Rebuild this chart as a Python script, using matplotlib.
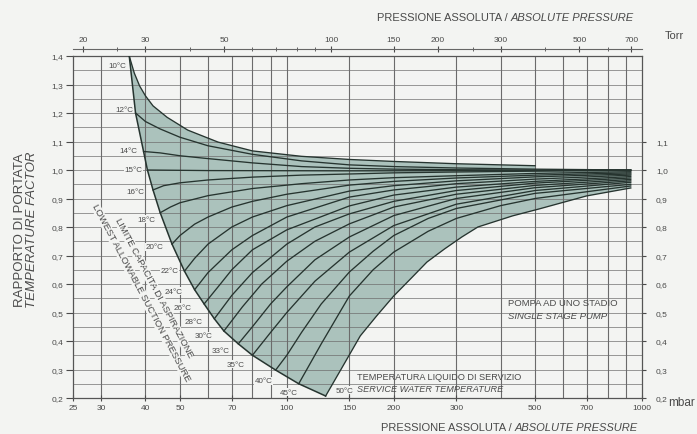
"""Temperature factor chart for a single stage liquid ring pump."""

import matplotlib.pyplot as plt
import matplotlib.ticker as mticker

plt.rcParams["font.family"] = ["Liberation Sans", "DejaVu Sans"]

W, H = 697, 435
BG = "#f3f4f2"
FILL = "#abc2bc"
LINE = "#26342f"
GRID = "#6b6b6b"
TXT = "#4a4a4a"

# ## Data (pressure in mbar, temperature factor) ###
bound_p = [36.0, 37.5, 39.5, 40.5, 42.0, 44.0, 47.5, 51.5, 55.0, 58.5, 62.5,
           66.5, 73.0, 80.0, 93.0, 108.0, 128.6]
bound_v = [1.40, 1.20, 1.065, 1.00, 0.93, 0.85, 0.74, 0.645, 0.58, 0.53, 0.478,
           0.435, 0.39, 0.35, 0.298, 0.25, 0.207]

p10 = [36.0, 37.2, 38.5, 40.0, 42.0, 46.0, 52.6, 64.0, 80.0, 110.0, 150.0, 200.0, 300.0, 500.0]
v10 = [1.40, 1.34, 1.295, 1.26, 1.225, 1.185, 1.14, 1.098, 1.067, 1.048, 1.037, 1.030, 1.022, 1.015]
p12 = [37.5, 40.0, 44.0, 50.0, 60.0, 80.0, 110.0, 150.0, 200.0, 300.0, 500.0, 930.0]
v12 = [1.20, 1.17, 1.144, 1.115, 1.085, 1.055, 1.032, 1.018, 1.012, 1.007, 1.003, 1.0]
p14 = [39.5, 44.0, 50.0, 60.0, 80.0, 110.0, 150.0, 200.0, 300.0, 500.0, 930.0]
v14 = [1.065, 1.06, 1.05, 1.04, 1.025, 1.012, 1.006, 1.003, 1.001, 1.0, 1.0]
p15 = [40.5, 60.0, 150.0, 500.0, 930.0]
v15 = [1.0, 0.998, 0.997, 0.998, 1.0]
p16 = [42.0, 45.0, 50.0, 60.0, 80.0, 110.0, 150.0, 200.0, 300.0, 500.0, 930.0]
v16 = [0.93, 0.945, 0.955, 0.965, 0.975, 0.982, 0.986, 0.99, 0.993, 0.996, 0.998]
p18 = [44.0, 47.0, 50.0, 60.0, 80.0, 110.0, 150.0, 200.0, 300.0, 500.0, 930.0]
v18 = [0.85, 0.87, 0.885, 0.91, 0.935, 0.952, 0.965, 0.973, 0.98, 0.988, 0.994]
p20 = [47.5, 50.0, 55.0, 60.0, 70.0, 80.0, 100.0, 150.0, 200.0, 300.0, 500.0, 930.0]
v20 = [0.74, 0.77, 0.81, 0.835, 0.87, 0.89, 0.915, 0.947, 0.96, 0.972, 0.982, 0.99]
p22 = [51.5, 55.0, 60.0, 70.0, 80.0, 100.0, 150.0, 200.0, 300.0, 500.0, 930.0]
v22 = [0.645, 0.69, 0.74, 0.80, 0.835, 0.875, 0.926, 0.945, 0.962, 0.976, 0.986]
p24 = [55.0, 60.0, 70.0, 80.0, 100.0, 150.0, 200.0, 300.0, 500.0, 930.0]
v24 = [0.58, 0.64, 0.72, 0.77, 0.835, 0.905, 0.93, 0.952, 0.968, 0.982]
p26 = [58.5, 65.0, 70.0, 80.0, 100.0, 150.0, 200.0, 300.0, 500.0, 930.0]
v26 = [0.53, 0.60, 0.65, 0.72, 0.79, 0.874, 0.912, 0.94, 0.96, 0.977]
p28 = [62.5, 70.0, 80.0, 100.0, 120.0, 150.0, 200.0, 300.0, 500.0, 930.0]
v28 = [0.478, 0.56, 0.64, 0.74, 0.80, 0.846, 0.89, 0.928, 0.954, 0.972]
p30 = [66.5, 75.0, 85.0, 100.0, 120.0, 150.0, 200.0, 300.0, 500.0, 930.0]
v30 = [0.435, 0.52, 0.60, 0.68, 0.75, 0.811, 0.87, 0.915, 0.946, 0.967]
p33 = [73.0, 80.0, 90.0, 100.0, 120.0, 150.0, 200.0, 300.0, 500.0, 930.0]
v33 = [0.39, 0.45, 0.53, 0.59, 0.685, 0.765, 0.84, 0.90, 0.938, 0.962]
p35 = [80.0, 90.0, 100.0, 120.0, 150.0, 200.0, 300.0, 500.0, 930.0]
v35 = [0.35, 0.43, 0.50, 0.61, 0.712, 0.805, 0.88, 0.928, 0.957]
p40 = [93.0, 100.0, 110.0, 125.0, 150.0, 175.0, 200.0, 250.0, 300.0, 500.0, 930.0]
v40 = [0.298, 0.35, 0.43, 0.53, 0.642, 0.715, 0.77, 0.83, 0.865, 0.918, 0.95]
p45 = [108.0, 115.0, 125.0, 150.0, 175.0, 200.0, 250.0, 300.0, 400.0, 500.0, 930.0]
v45 = [0.25, 0.31, 0.39, 0.558, 0.65, 0.712, 0.785, 0.83, 0.875, 0.90, 0.944]
p50 = [128.6, 146.0, 161.0, 179.0, 200.0, 223.0, 248.0, 278.0, 311.0, 345.0, 432.0,
       512.0, 698.0, 930.0]
v50 = [0.207, 0.326, 0.418, 0.488, 0.558, 0.618, 0.677, 0.723, 0.765, 0.80, 0.839,
       0.863, 0.909, 0.937]

temps = [10, 12, 14, 15, 16, 18, 20, 22, 24, 26, 28, 30, 33, 35, 40, 45, 50]
curves_p = [p10, p12, p14, p15, p16, p18, p20, p22, p24, p26, p28, p30, p33, p35, p40, p45, p50]
curves_v = [v10, v12, v14, v15, v16, v18, v20, v22, v24, v26, v28, v30, v33, v35, v40, v45, v50]

# top right corner of the shaded band (10 degC curve stops at 500 mbar)
corner_p = [930.0, 500.0, 500.0]
corner_v = [1.0, 1.0, 1.015]

grid_mbar = [30, 40, 50, 60, 70, 80, 90, 100, 150, 200, 300, 400, 500, 600, 700, 800, 900]
grid_y = [0.25, 0.3, 0.35, 0.4, 0.45, 0.5, 0.55, 0.6, 0.65, 0.7, 0.75, 0.8, 0.85, 0.9,
          0.95, 1.0, 1.05, 1.1, 1.15, 1.2, 1.25, 1.3, 1.35]
bottom_ticks = [25, 30, 40, 50, 70, 100, 150, 200, 300, 500, 700, 1000]
torr_major = [20, 30, 50, 100, 150, 200, 300, 500, 700]
torr_minor = [25, 40, 60, 70, 80, 90, 250, 400, 600]
left_ticks = [0.2, 0.3, 0.4, 0.5, 0.6, 0.7, 0.8, 0.9, 1.0, 1.1, 1.2, 1.3, 1.4]
right_ticks = [0.2, 0.3, 0.4, 0.5, 0.6, 0.7, 0.8, 0.9, 1.0, 1.1]

# label anchors for temperature names (mbar, factor)
label_pos = [(35.4, 1.365), (37.0, 1.214), (37.9, 1.067), (39.3, 1.0), (39.6, 0.926),
             (42.6, 0.828), (45.0, 0.73), (49.6, 0.646), (50.8, 0.575), (53.9, 0.519),
             (58.1, 0.467), (61.9, 0.418), (69.2, 0.365), (76.1, 0.319), (91.2, 0.26),
             (107.6, 0.221), (137.0, 0.228)]


def fx(x):
    return x / W


def fy(y):
    return 1 - y / H


fig = plt.figure(figsize=(W / 100, H / 100), dpi=100, facecolor=BG)
ax = fig.add_axes([fx(73), fy(399), (642 - 73) / W, (399 - 57) / H])
ax.set_facecolor(BG)
ax.set_xscale("log")
ax.set_xlim(25, 1000)
ax.set_ylim(0.2, 1.4)

for g in grid_mbar:
    ax.axvline(g, color=GRID, lw=0.8, zorder=1.5)
for g in grid_y:
    ax.axhline(g, color=GRID, lw=0.6, alpha=0.8, zorder=1.5)

# shaded working area
poly_p = bound_p + p50 + corner_p + p10[::-1]
poly_v = bound_v + v50 + corner_v + v10[::-1]
ax.fill(poly_p, poly_v, color=FILL, lw=0, zorder=1)

ax.plot(bound_p, bound_v, color=LINE, lw=1.1, zorder=3)
for p, v in zip(curves_p, curves_v):
    ax.plot(p, v, color=LINE, lw=0.95, zorder=3, solid_joinstyle="round")

for t, (lp, lv) in zip(temps, label_pos):
    ha = "left" if t == 50 else "right"
    ax.text(lp, lv, f"{t}°C", fontsize=5.8, color=TXT, ha=ha, va="center", zorder=4,
            bbox=dict(facecolor=BG, edgecolor="none", pad=0.3))

for s in ax.spines.values():
    s.set_color("#555555")
    s.set_linewidth(0.9)

ax.xaxis.set_minor_locator(mticker.NullLocator())
ax.set_xticks(bottom_ticks)
ax.set_xticklabels([str(b) for b in bottom_ticks])
ax.set_yticks(left_ticks)
ax.set_yticklabels([f"{t:.1f}".replace(".", ",") for t in left_ticks])
ax.tick_params(axis="x", labelsize=6, colors=TXT, direction="inout", length=5, pad=2)
ax.tick_params(axis="y", labelsize=6, colors=TXT, direction="out", length=5, pad=2)

right = ax.secondary_yaxis("right")
right.set_yticks(right_ticks)
right.set_yticklabels([f"{t:.1f}".replace(".", ",") for t in right_ticks])
right.tick_params(labelsize=6, colors=TXT, direction="out", length=3, pad=7)
right.spines["right"].set_visible(False)

top = ax.secondary_xaxis(1.02, functions=(lambda m: m / 1.33322, lambda t: t * 1.33322))
top.xaxis.set_major_locator(mticker.FixedLocator(torr_major))
top.xaxis.set_minor_locator(mticker.FixedLocator(torr_minor))
top.xaxis.set_major_formatter(mticker.FixedFormatter([str(t) for t in torr_major]))
top.xaxis.set_minor_formatter(mticker.NullFormatter())
top.tick_params(which="major", labelsize=6, colors=TXT, direction="inout", length=5, pad=2)
top.tick_params(which="minor", colors=TXT, direction="inout", length=3)
top.spines["top"].set_color("#666666")

# axis titles
fig.text(fx(511), fy(18), "PRESSIONE ASSOLUTA / ", fontsize=8, color=TXT, ha="right", va="center")
fig.text(fx(511), fy(18), "ABSOLUTE PRESSURE", fontsize=8, color=TXT, ha="left", va="center",
         style="italic")
fig.text(fx(515), fy(428), "PRESSIONE ASSOLUTA / ", fontsize=8, color=TXT, ha="right", va="center")
fig.text(fx(515), fy(428), "ABSOLUTE PRESSURE", fontsize=8, color=TXT, ha="left", va="center",
         style="italic")
fig.text(fx(665), fy(36), "Torr", fontsize=8, color=TXT, ha="left", va="center")
fig.text(fx(668), fy(403), "mbar", fontsize=8.5, color=TXT, ha="left", va="center")
fig.text(fx(20), fy(230), "RAPPORTO DI PORTATA", fontsize=9.5, color=TXT, rotation=90,
         ha="center", va="center")
fig.text(fx(32), fy(230), "TEMPERATURE FACTOR", fontsize=9.5, color=TXT, rotation=90,
         ha="center", va="center", style="italic")

# diagonal limit description
fig.text(fx(154), fy(288), "LIMITE CAPACITA DI ASPIRAZIONE", fontsize=6.8, color=TXT,
         rotation=-62, rotation_mode="anchor", ha="center", va="center",
         bbox=dict(facecolor=BG, edgecolor="none", pad=0.2))
fig.text(fx(141), fy(293), "LOWEST ALLOWABLE SUCTION PRESSURE", fontsize=6.8, color=TXT,
         rotation=-62, rotation_mode="anchor", ha="center", va="center",
         bbox=dict(facecolor=BG, edgecolor="none", pad=0.2))

fig.text(fx(508), fy(304), "POMPA AD UNO STADIO", fontsize=6.8, color=TXT, ha="left", va="center")
fig.text(fx(508), fy(317), "SINGLE STAGE PUMP", fontsize=6.8, color=TXT, ha="left", va="center",
         style="italic")
fig.text(fx(357), fy(378), "TEMPERATURA LIQUIDO DI SERVIZIO", fontsize=6.6, color=TXT,
         ha="left", va="center")
fig.text(fx(357), fy(390), "SERVICE WATER TEMPERATURE", fontsize=6.6, color=TXT,
         ha="left", va="center", style="italic")

fig.savefig("out.png", dpi=100, facecolor=BG)
